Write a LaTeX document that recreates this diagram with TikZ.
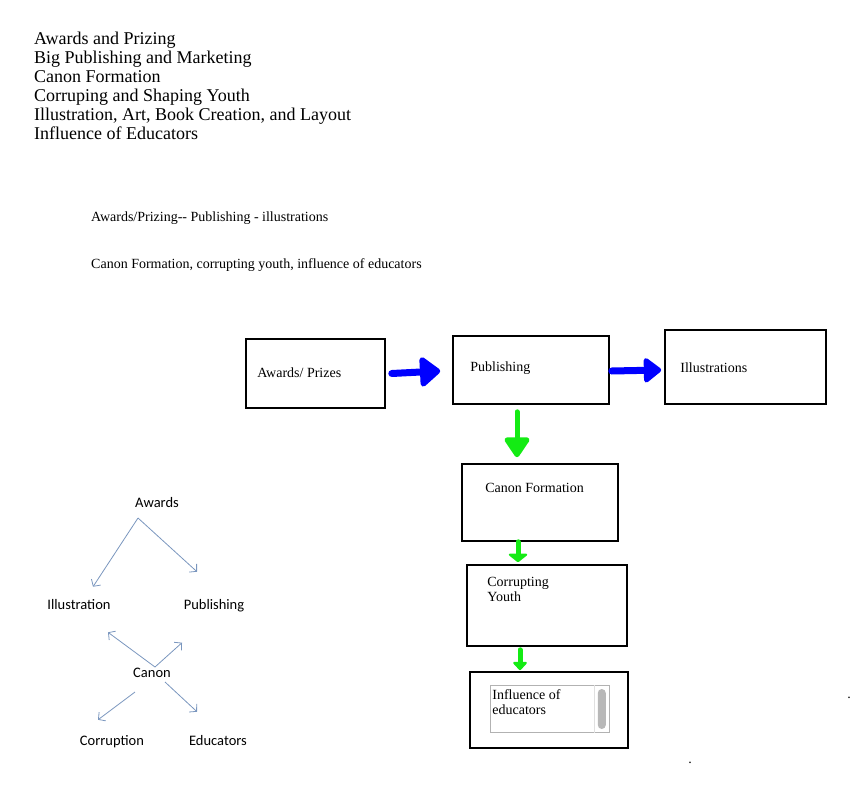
\documentclass[tikz,border=0pt]{standalone}
\usepackage{fontspec}
\setmainfont{Liberation Serif}
\newfontfamily\smartfont{Carlito}
\usepackage{tikz}
\usetikzlibrary{positioning, calc, arrows.meta}
\definecolor{markerblue}{RGB}{0,0,255}
\definecolor{markergreen}{RGB}{20,235,20}
\definecolor{smartblue}{RGB}{122,150,190}
\tikzset{flowbox/.style={draw, line width=1.6pt, inner sep=0pt}}
\tikzset{topiclabel/.style={anchor=base west, inner sep=0pt, font=\fontsize{18}{19}\selectfont}}
\tikzset{notelabel/.style={anchor=base west, inner sep=0pt, font=\fontsize{14}{16}\selectfont}}
\tikzset{boxlabel/.style={anchor=base west, inner sep=0pt, align=left, font=\fontsize{14}{15}\selectfont}}
\tikzset{smartlabel/.style={anchor=base, inner sep=0pt, font=\smartfont\fontsize{14.5}{17}\selectfont}}
\tikzset{smartarrow/.style={draw=smartblue, line width=0.8pt, -{Straight Barb[length=5pt,width=11pt]}}}
\tikzset{bluemarker/.style={draw=markerblue, line width=7pt, line cap=round, line join=round}}
\tikzset{greenmarker/.style={draw=markergreen, line width=5pt, line cap=round, line join=round}}

\begin{document}
\begin{tikzpicture}[x=1pt, y=-1pt]
      \useasboundingbox (0,0) rectangle (861,802);

      % TOPIC LIST

      \foreach \topic [count=\i] in {Awards and Prizing, Big Publishing and Marketing, Canon Formation, Corruping and Shaping Youth, {Illustration, Art, Book Creation, and Layout}, Influence of Educators}
        \node[topiclabel] (topic\i) at (34, 26+19*\i) {\topic};

      \node[notelabel] (note1) at (91,222) {Awards/Prizing-{}- Publishing - illustrations};
      \node[notelabel] (note2) at (91,268) {Canon Formation, corrupting youth, influence of educators};

      % BOXES

      \node[flowbox, minimum width=139pt, minimum height=69pt] (prize) at (315.5,373.5) {};
      \node[flowbox, minimum width=156pt, minimum height=68pt] (pub) at (531,370) {};
      \node[flowbox, minimum width=161pt, minimum height=74pt] (ill) at (745.5,367) {};
      \node[flowbox, minimum width=156pt, minimum height=77pt] (canon) at (540,502.5) {};
      \node[flowbox, minimum width=160pt, minimum height=81pt] (youth) at (547,605.5) {};
      \node[flowbox, minimum width=158pt, minimum height=76pt] (infl) at (549,710) {};

      % TEXT FIELD IN LAST BOX

      \node[draw=black!30, line width=0.6pt, minimum width=119pt, minimum height=47pt, anchor=north west] (field) at ($(infl.north west)+(21,14)$) {};
      \draw[black!12, line width=0.6pt] ($(field.north east)+(-16,0)$) -- ($(field.south east)+(-16,0)$);
      \node[fill=black!28, rounded corners=4pt, minimum width=8pt, minimum height=40pt, inner sep=0pt] (scroll) at ($(field.east)+(-8,0)$) {};

      % LABELS

      \node[boxlabel] at ($(prize.west)+(12,4)$) {Awards/ Prizes};
      \node[boxlabel] at ($(pub.west)+(18,1)$) {Publishing};
      \node[boxlabel] at ($(ill.west)+(16,5)$) {Illustrations};
      \node[boxlabel] at ($(canon.north west)+(24,29)$) {Canon Formation};
      \node[boxlabel] at ($(youth.north west)+(21,37)$) {Corrupting\\Youth};
      \node[boxlabel] at ($(field.north west)+(2,29)$) {Influence of\\educators};

      \node[boxlabel, anchor=base] (dot1) at (849,698) {.};
      \node[boxlabel, anchor=base] (dot2) at (690,763) {.};

      % MARKER ARROWS

      \coordinate (b1s) at ($(prize.east)+(6,0)$);
      \coordinate (b1e) at ($(pub.west)+(-12,1)$);
      \draw[bluemarker, -{Triangle[length=22pt,width=34pt,round]}] (b1s) -- (b1e);
      \coordinate (b2s) at ($(pub.east)+(2,1)$);
      \coordinate (b2e) at ($(ill.west)+(-3,3)$);
      \draw[bluemarker, -{Triangle[length=19pt,width=28pt,round]}] (b2s) -- (b2e);

      \coordinate (g1s) at ($(pub.south)+(-14,7)$);
      \coordinate (g1e) at ($(canon.north)+(-23,-6)$);
      \draw[greenmarker, -{Triangle[length=22pt,width=28pt,round]}] (g1s) -- (g1e);
      \coordinate (g2s) at ($(canon.south)+(-22,0)$);
      \coordinate (g2e) at ($(youth.north)+(-29,-2)$);
      \draw[greenmarker, -{Triangle[length=9pt,width=22pt,round]}] (g2s) -- (g2e);
      \coordinate (g3s) at ($(youth.south)+(-27,3)$);
      \coordinate (g3e) at ($(infl.north)+(-29,-1)$);
      \draw[greenmarker, -{Triangle[length=9pt,width=16pt,round]}] (g3s) -- (g3e);

      % SMALL CHART

      \node[smartlabel] (s-awards) at (157,507) {Awards};
      \node[smartlabel] (s-ill) at (79,609) {Illustration};
      \node[smartlabel] (s-pub) at (214,609) {Publishing};
      \node[smartlabel] (s-canon) at (152,677) {Canon};
      \node[smartlabel] (s-corr) at (112,745) {Corruption};
      \node[smartlabel] (s-edu) at (218,745) {Educators};

      \coordinate (aw-foot) at ($(s-awards.base)+(-19,11)$);
      \coordinate (canon-top) at ($(s-canon.base)+(3,-10)$);
      \coordinate (canon-left) at ($(s-canon.base)+(-17,15)$);
      \coordinate (canon-right) at ($(s-canon.base)+(13,5)$);

      \draw[smartarrow] (aw-foot) -- ($(s-ill.north)+(14,-12)$);
      \draw[smartarrow] (aw-foot) -- ($(s-pub.north)+(-17,-27)$);
      \draw[smartarrow] (canon-top) -- ($(s-ill.south)+(29,23)$);
      \draw[smartarrow] (canon-top) -- ($(s-pub.south)+(-32,31)$);
      \draw[smartarrow] (canon-left) -- ($(s-corr.north)+(-14,-15)$);
      \draw[smartarrow] (canon-right) -- ($(s-edu.north)+(-21,-23)$);
    \end{tikzpicture}
\end{document}
